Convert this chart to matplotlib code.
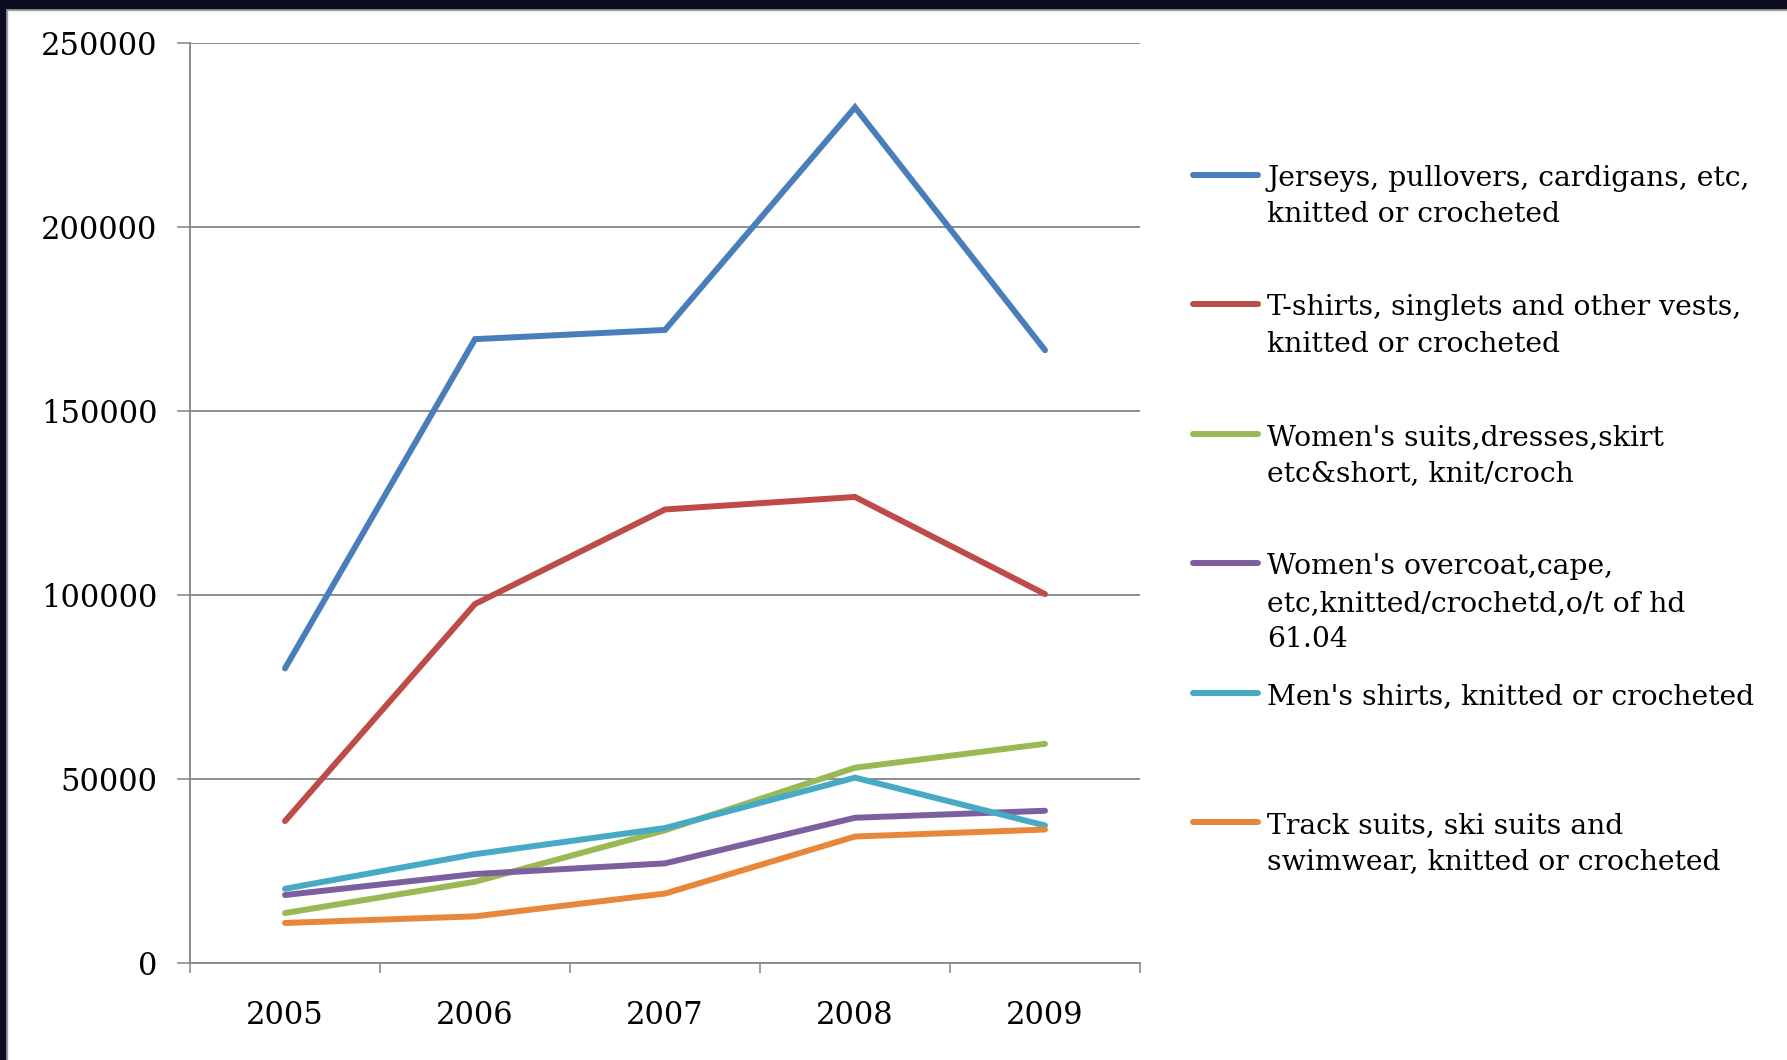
import matplotlib
matplotlib.use("Agg")
import matplotlib.pyplot as plt
from matplotlib.lines import Line2D
from matplotlib.patches import Rectangle

years = ["2005", "2006", "2007", "2008", "2009"]

jerseys = [80000, 169500, 172000, 232500, 166500]
tshirts = [38500, 97500, 123200, 126600, 100200]
womens_suits = [13500, 22000, 36000, 53000, 59500]
womens_overcoat = [18400, 24100, 27000, 39400, 41300]
mens_shirts = [20100, 29500, 36600, 50300, 37300]
track_suits = [10800, 12600, 18800, 34300, 36200]

labels = [
    ["Jerseys, pullovers, cardigans, etc,", "knitted or crocheted"],
    ["T-shirts, singlets and other vests,", "knitted or crocheted"],
    ["Women's suits,dresses,skirt", "etc&short, knit/croch"],
    ["Women's overcoat,cape,", "etc,knitted/crochetd,o/t of hd", "61.04"],
    ["Men's shirts, knitted or crocheted"],
    ["Track suits, ski suits and", "swimwear, knitted or crocheted"],
]
series = [jerseys, tshirts, womens_suits, womens_overcoat, mens_shirts, track_suits]
colors = ["#4a7ebb", "#be4b48", "#98b954", "#7d5fa0", "#46aac5", "#e8873a"]

W, H = 1787, 1060
fig = plt.figure(figsize=(W / 100, H / 100), dpi=100)
fig.patch.set_facecolor("white")

# dark frame along the top and left edges, with a thin grey inner edge
fig.add_artist(Rectangle((0, 1 - 10 / H), 1, 10 / H, transform=fig.transFigure,
                         color="#a0a0a8", zorder=0))
fig.add_artist(Rectangle((0, 0), 7 / W, 1 - 8 / H, transform=fig.transFigure,
                         color="#a0a0a8", zorder=0))
fig.add_artist(Rectangle((0, 1 - 8 / H), 1, 8 / H, transform=fig.transFigure,
                         color="#0c0c20", zorder=1))
fig.add_artist(Rectangle((0, 0), 5 / W, 1, transform=fig.transFigure,
                         color="#0c0c20", zorder=1))

ax = fig.add_axes([190 / W, 97.3 / H, 950 / W, 919.7 / H])
x = list(range(1, len(years) + 1))
for vals, c in zip(series, colors):
    ax.plot(x, vals, color=c, lw=4.3, solid_capstyle="round", solid_joinstyle="miter", zorder=3)

ax.set_xlim(0.5, len(years) + 0.5)
ax.set_ylim(0, 250000)
ax.set_yticks(range(0, 250001, 50000))
ax.set_yticklabels([str(v) for v in range(0, 250001, 50000)])
ax.yaxis.grid(True, color="#8c8c8c", lw=1.4)
ax.set_axisbelow(True)

ax.set_xticks([i + 0.5 for i in range(len(years) + 1)])
ax.set_xticklabels([])
ax.set_xticks(x, minor=True)
ax.set_xticklabels(years, minor=True)
ax.tick_params(axis="x", which="major", length=7.5, width=1.2, color="#8c8c8c", direction="out")
ax.tick_params(axis="x", which="minor", length=0, pad=27, labelsize=22)
ax.tick_params(axis="y", length=9.5, width=1.2, color="#8c8c8c", pad=14, labelsize=22)
for lab in ax.get_xticklabels(minor=True) + ax.get_yticklabels():
    lab.set_fontfamily("DejaVu Serif")

for s in ["top", "right"]:
    ax.spines[s].set_visible(False)
for s in ["left", "bottom"]:
    ax.spines[s].set_color("#8c8c8c")
    ax.spines[s].set_linewidth(1.4)

# legend on the right, drawn entry by entry; the key sits on the first text line
top_y = 175.0
step = 129.4
line_gap = 36.5
for i, (lines, c) in enumerate(zip(labels, colors)):
    yh = top_y + i * step
    fig.add_artist(Line2D([1193 / W, 1258 / W], [1 - yh / H, 1 - yh / H],
                          transform=fig.transFigure, color=c, lw=4.3,
                          solid_capstyle="round"))
    for j, txt in enumerate(lines):
        fig.text(1267 / W, 1 - (yh + 11 + j * line_gap) / H, txt, fontsize=20.3,
                 family="DejaVu Serif", va="baseline", ha="left")

fig.savefig("out.png", dpi=100)
